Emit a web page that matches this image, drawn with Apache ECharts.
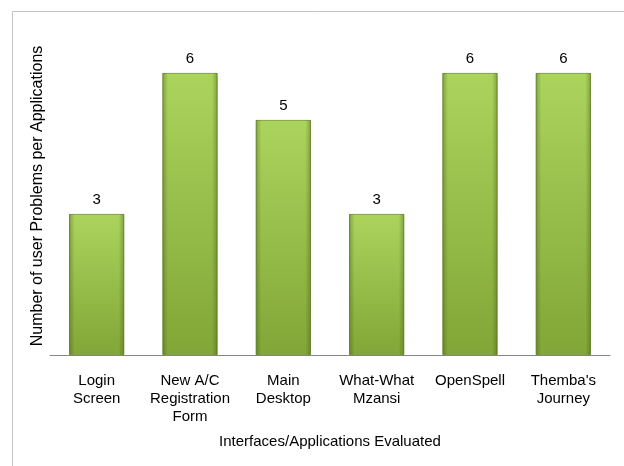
<!DOCTYPE html>
<html><head><meta charset="utf-8">
<script src="https://cdn.jsdelivr.net/npm/echarts@6/dist/echarts.min.js"></script>
<style>html,body{margin:0;padding:0;background:#fff}#c{width:624px;height:466px}</style>
</head><body><div id="c"></div>
<script>
var categories = ["Login\nScreen", "New A/C\nRegistration\nForm", "Main\nDesktop", "What-What\nMzansi", "OpenSpell", "Themba's\nJourney"];
var values = [3, 6, 5, 3, 6, 6];
var xTitle = "Interfaces/Applications Evaluated";
var yTitle = "Number of user Problems per Applications";

var chart = echarts.init(document.getElementById('c'), null, {renderer: 'canvas'});
var font = 'Liberation Sans, Arial, sans-serif';
chart.setOption({
  animation: false,
  graphic: [
    {type: 'rect', shape: {x: 12.5, y: 11.5, width: 700, height: 600}, style: {fill: 'none', stroke: '#c4c4c4', lineWidth: 1}, z: -10},
    {type: 'text', x: 38, y: 196, rotation: Math.PI / 2,
     style: {text: yTitle, fill: '#000', font: '16px ' + font, textAlign: 'center', textVerticalAlign: 'middle'}}
  ],
  grid: {left: 50, right: 14, top: 26, bottom: 111},
  xAxis: {
    type: 'category', data: categories,
    axisLine: {lineStyle: {color: '#868686', width: 1}},
    axisTick: {show: false},
    axisLabel: {color: '#000', fontFamily: font, fontSize: 15, lineHeight: 18, margin: 17, interval: 0},
    name: xTitle, nameLocation: 'middle', nameGap: 79,
    nameTextStyle: {color: '#000', fontFamily: font, fontSize: 15}
  },
  yAxis: {
    type: 'value', min: 0, max: 7,
    axisLine: {show: false}, axisTick: {show: false}, axisLabel: {show: false}, splitLine: {show: false}
  },
  series: [{
    type: 'bar', data: values, barCategoryGap: '41%',
    itemStyle: {
      color: {type: 'linear', x: 0, y: 0, x2: 0, y2: 1, colorStops: [
        {offset: 0, color: '#abd45d'}, {offset: 1, color: '#82a637'}]},
      borderColor: '#6f8f2c', borderWidth: 0.8
    },
    label: {show: true, position: 'top', distance: 7, color: '#000', fontFamily: font, fontSize: 15}
  }, {
    type: 'bar', data: values, barGap: '-100%', silent: true,
    itemStyle: {
      color: {type: 'linear', x: 0, y: 0, x2: 1, y2: 0, colorStops: [
        {offset: 0, color: 'rgba(50,70,10,0.35)'}, {offset: 0.1, color: 'rgba(50,70,10,0)'},
        {offset: 0.9, color: 'rgba(50,70,10,0)'}, {offset: 1, color: 'rgba(50,70,10,0.35)'}]}
    }
  }]
});
</script></body></html>
